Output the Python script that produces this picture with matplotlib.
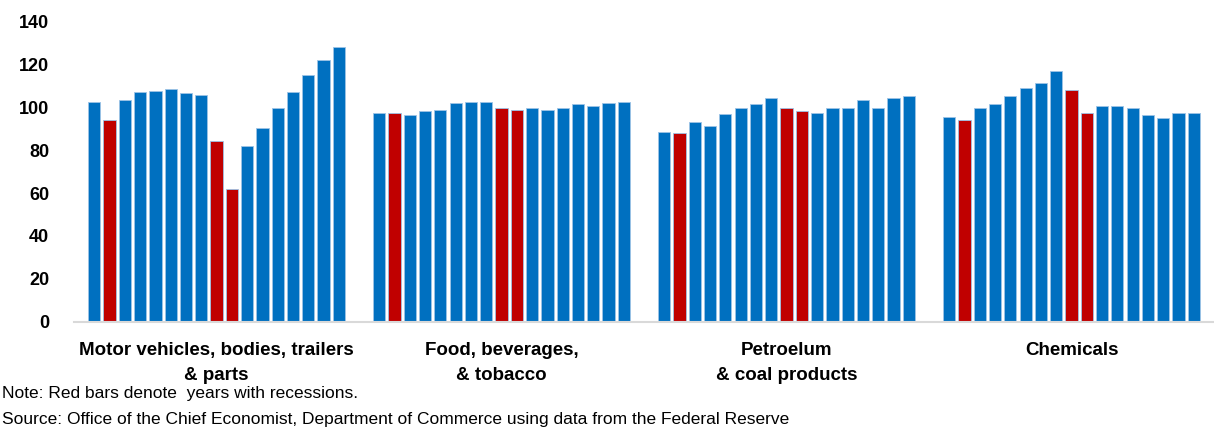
import numpy as np
import matplotlib
matplotlib.use('Agg')
import matplotlib.pyplot as plt

plt.rcParams['font.family'] = ['Liberation Sans', 'DejaVu Sans']

categories = ['Motor vehicles, bodies, trailers\n& parts', 'Food, beverages,\n& tobacco',
              'Petroelum\n& coal products', 'Chemicals']
years = list(range(2000, 2017))
recession_years = [2001, 2008, 2009]

motor = [102.7, 94.1, 103.5, 107.0, 107.8, 108.4, 106.6, 105.8, 84.5, 61.9,
         82.0, 90.2, 99.6, 107.0, 114.9, 121.9, 128.3]
food = [97.5, 97.5, 96.3, 98.2, 98.9, 101.9, 102.7, 102.7, 99.6, 98.9,
        99.6, 98.9, 99.6, 101.4, 100.8, 101.9, 102.7]
petro = [88.7, 88.2, 93.2, 91.3, 96.9, 99.6, 101.4, 104.5, 99.6, 98.3,
         97.5, 99.6, 99.6, 103.3, 99.6, 104.5, 105.1]
chem = [95.7, 94.0, 99.6, 101.4, 105.1, 108.9, 111.5, 117.1, 108.3, 97.5,
        100.8, 100.8, 99.6, 96.3, 95.0, 97.5, 97.5]
series = [motor, food, petro, chem]

blue = '#0070C0'
red = '#C00000'

fig = plt.figure(figsize=(12.14, 4.34), dpi=100)
ax = fig.add_axes([0.061, 0.259, 0.939, 0.691])

n = len(years)
group_w = 0.912
slot = group_w / n
offsets = (np.arange(n) - (n - 1) / 2) * slot
colors = [red if y in recession_years else blue for y in years]

for i, vals in enumerate(series):
    ax.bar(i + offsets, vals, width=slot * 0.8, color=colors,
           edgecolor='#9DC3E6', linewidth=0.6)

ax.set_xlim(-0.5, len(categories) - 0.5)
ax.set_ylim(0, 140)
ax.set_yticks(range(0, 141, 20))
ax.set_yticklabels([str(v) for v in range(0, 141, 20)], fontsize=13, fontweight='bold')
ax.tick_params(axis='y', length=0, pad=18)
ax.set_xticks(range(len(categories)))
ax.set_xticklabels(categories, fontsize=13.5, fontweight='bold', linespacing=1.55)
ax.tick_params(axis='x', length=0, pad=15)

for s in ['top', 'right', 'left']:
    ax.spines[s].set_visible(False)
ax.spines['bottom'].set_color('#d9d9d9')
ax.spines['bottom'].set_linewidth(1.5)

fig.text(0.002, 0.083, 'Note: Red bars denote  years with recessions.', fontsize=12.5)
fig.text(0.002, 0.022, 'Source: Office of the Chief Economist, Department of Commerce using data from the Federal Reserve',
         fontsize=12.5)

fig.savefig('out.png', dpi=100)
